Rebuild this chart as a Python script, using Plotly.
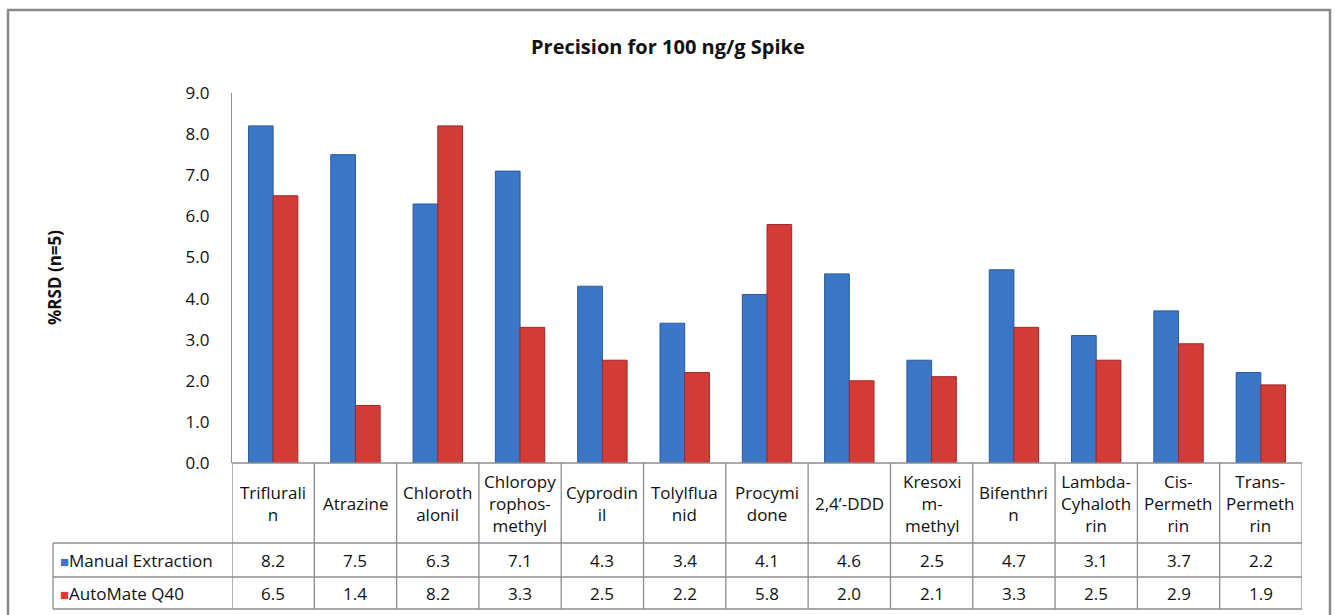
import plotly.graph_objects as go

categories = ["Triflurali<br>n", "Atrazine", "Chloroth<br>alonil", "Chloropy<br>rophos-<br>methyl",
              "Cyprodin<br>il", "Tolylflua<br>nid", "Procymi<br>done", "2,4’-DDD",
              "Kresoxi<br>m-<br>methyl", "Bifenthri<br>n", "Lambda-<br>Cyhaloth<br>rin",
              "Cis-<br>Permeth<br>rin", "Trans-<br>Permeth<br>rin"]
manual = [8.2, 7.5, 6.3, 7.1, 4.3, 3.4, 4.1, 4.6, 2.5, 4.7, 3.1, 3.7, 2.2]
automate = [6.5, 1.4, 8.2, 3.3, 2.5, 2.2, 5.8, 2.0, 2.1, 3.3, 2.5, 2.9, 1.9]
series_names = ["Manual Extraction", "AutoMate Q40"]
y_ticks = [0, 1, 2, 3, 4, 5, 6, 7, 8, 9]
title_text = "Precision for 100 ng/g Spike"
y_title = "%RSD (n=5)"

BLUE = "#3b77c6"
BLUE_EDGE = "#2a5a9c"
RED = "#d33b37"
RED_EDGE = "#9e2a28"
GRID = "#8c8c8c"
FONT = "Open Sans"

W, H = 1335, 615
L, R, T, B = 232, 33, 93, 152
PW = W - L - R
PH = H - T - B

def py(pix):
    return (H - B - pix) / PH

def px(pix):
    return (pix - L) / PW

n = len(categories)
xs = list(range(n))

fig = go.Figure()
fig.add_trace(go.Bar(x=xs, y=manual, name=series_names[0],
                     marker=dict(color=BLUE, line=dict(color=BLUE_EDGE, width=1))))
fig.add_trace(go.Bar(x=xs, y=automate, name=series_names[1],
                     marker=dict(color=RED, line=dict(color=RED_EDGE, width=1))))

shapes = []
annotations = []
line_style = dict(color=GRID, width=1.3)

# table horizontal lines
row_y = [py(543), py(577), py(609)]
shapes.append(dict(type="line", xref="paper", yref="paper", x0=0, x1=1, y0=0, y1=0, line=line_style))
for yy in row_y:
    shapes.append(dict(type="line", xref="paper", yref="paper", x0=px(53), x1=1, y0=yy, y1=yy, line=line_style))
# vertical lines at category boundaries
for i in range(n + 1):
    shapes.append(dict(type="line", xref="x", yref="paper", x0=i - 0.5, x1=i - 0.5, y0=0, y1=row_y[-1], line=line_style))
shapes.append(dict(type="line", xref="paper", yref="paper", x0=px(53), x1=px(53), y0=row_y[0], y1=row_y[-1], line=line_style))
# outer chart border
shapes.append(dict(type="rect", xref="paper", yref="paper", x0=px(8), x1=px(1330), y0=py(620), y1=py(10),
                   line=dict(color="#8a8a8a", width=2.5), fillcolor="rgba(0,0,0,0)", layer="below"))

tfont = dict(family=FONT, size=17, color="#111111")
for i, c in enumerate(categories):
    annotations.append(dict(x=i, y=py(503), xref="x", yref="paper", text=c, showarrow=False,
                            font=tfont, align="center", xanchor="center", yanchor="middle"))
    annotations.append(dict(x=i, y=py(560), xref="x", yref="paper", text=f"{manual[i]:.1f}", showarrow=False,
                            font=tfont, xanchor="center", yanchor="middle"))
    annotations.append(dict(x=i, y=py(593), xref="x", yref="paper", text=f"{automate[i]:.1f}", showarrow=False,
                            font=tfont, xanchor="center", yanchor="middle"))

for name, col, yy in [(series_names[0], BLUE, py(560)), (series_names[1], RED, py(593))]:
    annotations.append(dict(x=px(58), y=yy, xref="paper", yref="paper",
                            text=f"<span style='color:{col};font-size:15px'>■</span>{name}", showarrow=False,
                            font=tfont, xanchor="left", yanchor="middle"))

annotations.append(dict(x=px(54), y=py(278), xref="paper", yref="paper", text=f"<b>{y_title}</b>",
                        textangle=-90, showarrow=False, font=dict(family=FONT, size=17, color="#111111"),
                        xanchor="center", yanchor="middle"))
annotations.append(dict(x=px(668), y=py(47), xref="paper", yref="paper", text=f"<b>{title_text}</b>",
                        showarrow=False, font=dict(family=FONT, size=20, color="#111111"),
                        xanchor="center", yanchor="middle"))

fig.update_layout(
    width=W, height=H,
    margin=dict(l=L, r=R, t=T, b=B, pad=0),
    paper_bgcolor="white", plot_bgcolor="white",
    barmode="group", bargap=0.4, bargroupgap=0.0,
    showlegend=False,
    shapes=shapes, annotations=annotations,
    xaxis=dict(range=[-0.5, n - 0.5], showticklabels=False, showgrid=False, zeroline=False,
               showline=False, ticks=""),
    yaxis=dict(range=[0, 9], tickvals=y_ticks, tickformat=".1f", showgrid=False, zeroline=False,
               showline=True, linecolor=GRID, linewidth=1.3, ticks="", ticklen=0,
               tickfont=dict(family=FONT, size=17, color="#111111")),
)
fig.update_yaxes(ticklabelstandoff=18)

fig.write_html("out.html")
